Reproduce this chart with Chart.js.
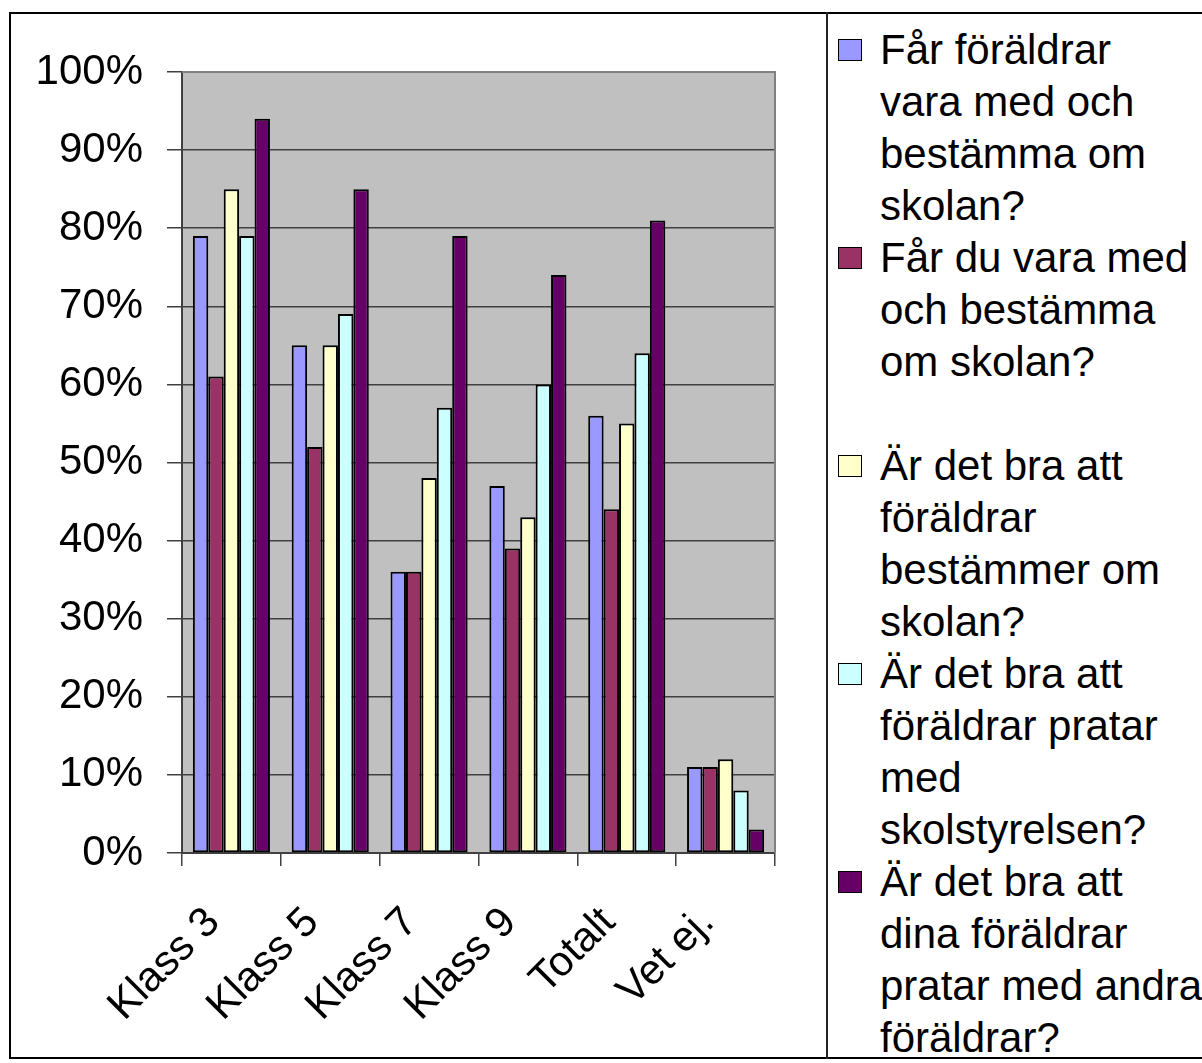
<!DOCTYPE html>
<html>
<head>
<meta charset="utf-8">
<script src="https://cdn.jsdelivr.net/npm/chart.js@4.4.0/dist/chart.umd.min.js"></script>
<style>
  body { margin: 0; background: #fff; overflow: hidden; font-family: 'Liberation Sans', Arial, sans-serif; }
  #frame { position: absolute; left: 9px; top: 12px; width: 1200px; height: 1047px; border: 2px solid #000; border-right: none; box-sizing: border-box; }
  #divider { position: absolute; left: 826px; top: 12px; width: 2px; height: 1047px; background: #222; }
  #envChart { position: absolute; left: 10px; top: 13px; }
  #legend { position: absolute; left: 838px; top: 24px; font-size: 42px; line-height: 52px; color: #000; white-space: nowrap; }
  .item { position: relative; padding-left: 42px; }
  .item .box { position: absolute; left: 0; top: 15px; width: 22px; height: 20px; border: 1.5px solid #000; }
</style>
</head>
<body>
<div id="frame"></div>
<div id="divider"></div>
<canvas id="envChart" width="817" height="1044"></canvas>
<div id="legend"></div>
<script>
// 카테고리 / 값 (%)
const categories = ['Klass 3', 'Klass 5', 'Klass 7', 'Klass 9', 'Totalt', 'Vet ej.'];

const foraldrarBestamma   = [79, 65, 36, 47, 56, 11];
const duBestamma          = [61, 52, 36, 39, 44, 11];
const braForaldrarBestam  = [85, 65, 48, 43, 55, 12];
const braSkolstyrelsen    = [79, 69, 57, 60, 64, 8];
const braAndraForaldrar   = [94, 85, 79, 74, 81, 3];

// 범례 줄바꿈 (원본 그대로)
const legendLines = [
  ['Får föräldrar', 'vara med och', 'bestämma om', 'skolan?'],
  ['Får du vara med', 'och bestämma', 'om skolan?', ''],
  ['Är det bra att', 'föräldrar', 'bestämmer om', 'skolan?'],
  ['Är det bra att', 'föräldrar pratar', 'med', 'skolstyrelsen?'],
  ['Är det bra att', 'dina föräldrar', 'pratar med andra', 'föräldrar?']
];

const seriesValues = [foraldrarBestamma, duBestamma, braForaldrarBestam, braSkolstyrelsen, braAndraForaldrar];
const seriesColors = ['#9999FF', '#993366', '#FFFFCC', '#CCFFFF', '#660066'];

const FONT = "'Liberation Sans', Arial, sans-serif";
const GRID = '#404040';

// 플롯 배경 + 테두리
const plotBg = {
  id: 'plotBg',
  beforeDraw(chart) {
    const a = chart.chartArea, c = chart.ctx;
    c.save();
    c.fillStyle = '#C0C0C0';
    c.fillRect(a.left, a.top, a.right - a.left, a.bottom - a.top);
    c.restore();
  },
  afterDraw(chart) {
    const a = chart.chartArea, c = chart.ctx;
    c.save();
    c.strokeStyle = '#808080';
    c.lineWidth = 2;
    c.beginPath();
    c.moveTo(a.left, a.top);
    c.lineTo(a.right, a.top);
    c.lineTo(a.right, a.bottom);
    c.stroke();
    c.restore();
  }
};

const chart = new Chart(document.getElementById('envChart'), {
  type: 'bar',
  data: {
    labels: categories,
    datasets: seriesValues.map((vals, i) => ({
      label: legendLines[i].join(' ').trim(),
      data: vals,
      backgroundColor: seriesColors[i],
      borderColor: '#000',
      borderWidth: 2,
      borderSkipped: false,
      categoryPercentage: 0.78,
      barPercentage: 1.0
    }))
  },
  options: {
    responsive: false,
    animation: false,
    layout: { padding: { top: 59, right: 52, left: 0, bottom: 0 } },
    plugins: {
      legend: { display: false },
      tooltip: { enabled: false }
    },
    scales: {
      x: {
        grid: {
          display: true,
          drawOnChartArea: false,
          drawTicks: true,
          tickLength: 13,
          color: GRID,
          lineWidth: 1.5
        },
        border: { display: true, color: GRID, width: 2 },
        ticks: {
          color: '#000',
          font: { family: FONT, size: 42 },
          maxRotation: 45,
          minRotation: 45,
          autoSkip: false,
          padding: 32,
          labelOffset: -18
        },
        afterFit(scale) { scale.height = 204; }
      },
      y: {
        min: 0,
        max: 100,
        grid: {
          color: ctx => (ctx.tick && ctx.tick.value === 100) ? '#808080' : GRID,
          lineWidth: 1.5,
          tickLength: 15,
          tickColor: GRID
        },
        border: { display: true, color: GRID, width: 2 },
        ticks: {
          stepSize: 10,
          color: '#000',
          font: { family: FONT, size: 42 },
          padding: 24,
          callback: v => v + '%'
        },
        afterFit(scale) { scale.width = 172; }
      }
    }
  },
  plugins: [plotBg]
});

// HTML 범례
const legendEl = document.getElementById('legend');
chart.data.datasets.forEach((ds, i) => {
  const item = document.createElement('div');
  item.className = 'item';
  const box = document.createElement('div');
  box.className = 'box';
  box.style.background = ds.backgroundColor;
  item.appendChild(box);
  legendLines[i].forEach(line => {
    const l = document.createElement('div');
    l.textContent = line === '' ? '\u00a0' : line;
    item.appendChild(l);
  });
  legendEl.appendChild(item);
});
</script>
</body>
</html>
